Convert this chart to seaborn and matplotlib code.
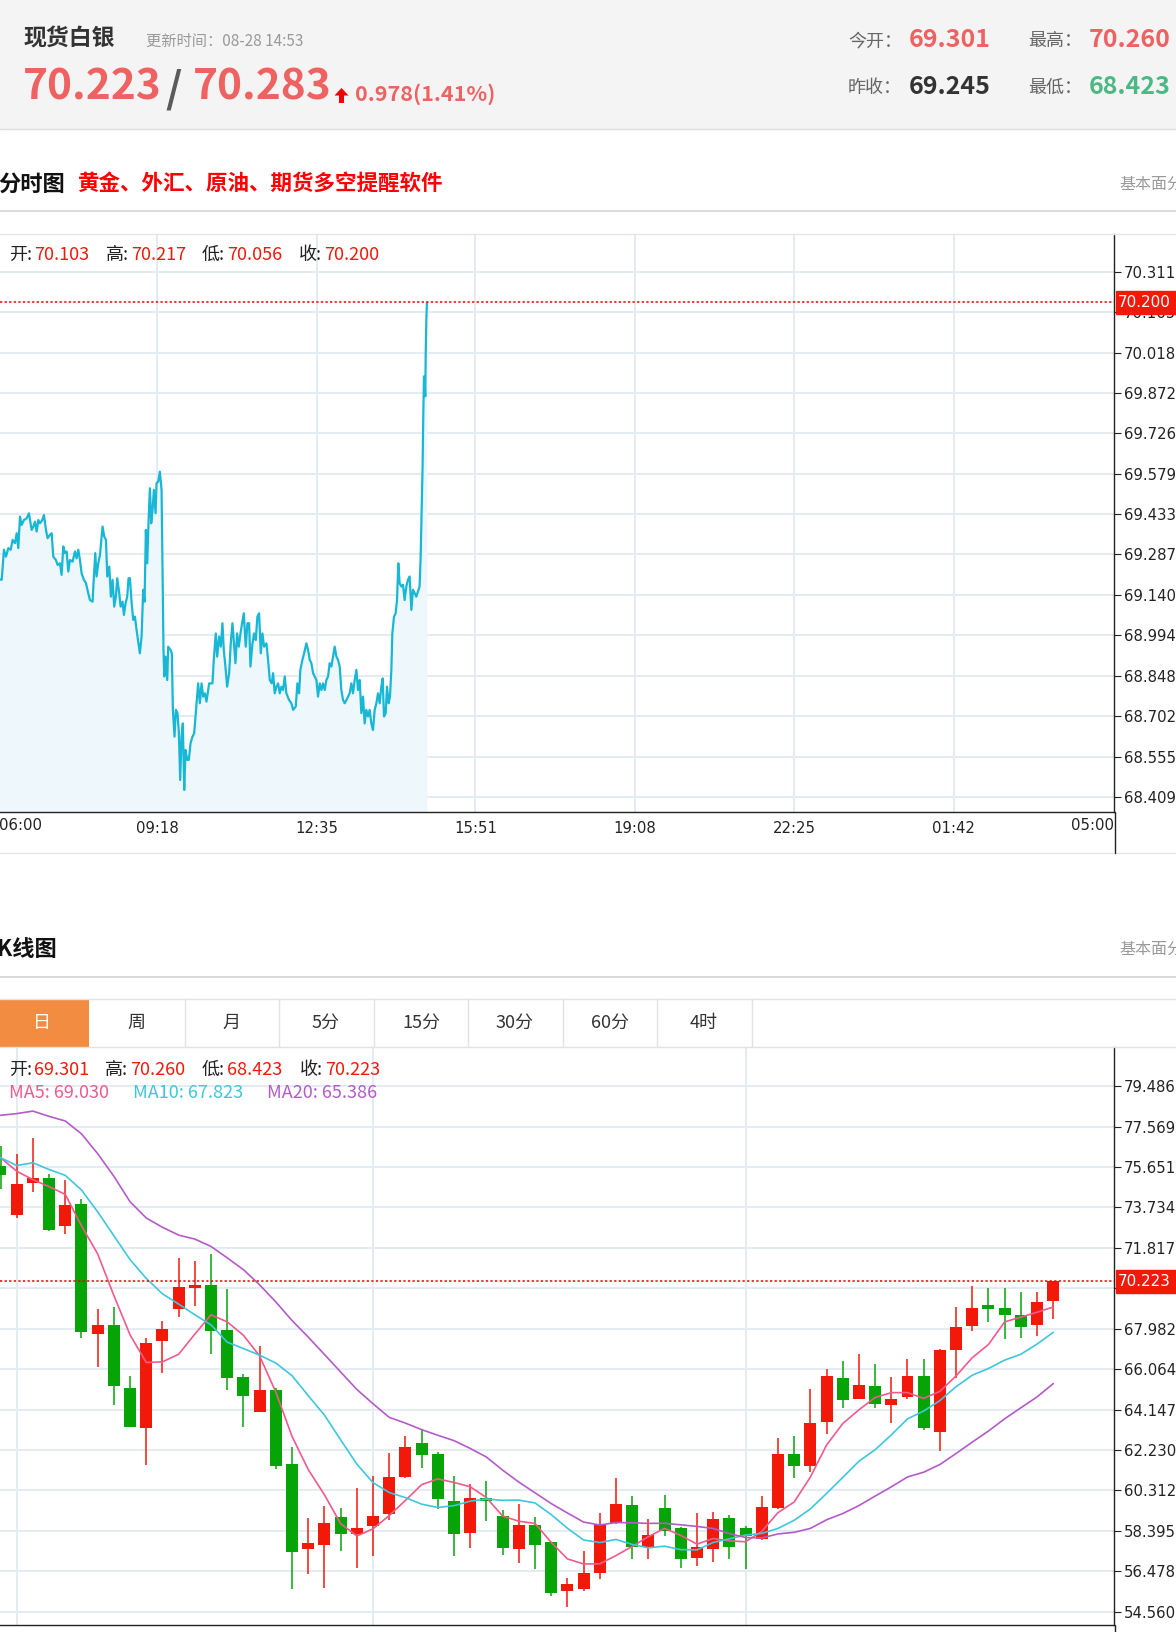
import numpy as np
import pandas as pd
import matplotlib
matplotlib.use("Agg")
import matplotlib.pyplot as plt
import seaborn as sns
from matplotlib.patches import Rectangle, Polygon
import matplotlib.transforms as mtransforms

# ==========================================
# Datos
# ==========================================

# cabecera
quote_bid = "70.223"
quote_ask = "70.283"
quote_change = "0.978(1.41%)"
update_time = "更新时间：08-28 14:53"
today_open = "69.301"
today_high = "70.260"
prev_close = "69.245"
today_low = "68.423"

# --- 分时图: minutos desde las 06:00 y precio ---
minute_marks = [
    0, 5.8, 8.6, 11.1, 14.0, 16.9, 19.3, 22.2, 24.3, 26.3, 28.4, 30.4, 33.3, 36.6, 39.5,
    42.8, 44.9, 46.9, 49.0, 51.0, 53.1, 56.0, 58.0, 60.5, 62.5, 65.4, 67.5, 69.5, 72.8,
    74.9, 77.8, 79.8, 81.9, 83.9, 86.0, 88.1, 90.1, 93.4, 96.3, 98.3, 100.4, 102.5, 104.5,
    107.4, 109.9, 112.7, 114.8, 118.1, 119.7, 121.4, 123.0, 125.1, 127.2, 129.2, 130.4,
    132.5, 134.6, 136.2, 138.7, 140.7, 142.8, 144.8, 146.9, 148.5, 151.0, 152.7, 155.1,
    156.8, 158.8, 160.9, 162.5, 164.2, 166.2, 168.3, 170.4, 172.4, 174.5, 176.5, 178.6,
    180.6, 182.3, 183.9, 185.6, 187.2, 188.9, 190.5, 192.2, 193.8, 195.9, 197.1, 199.2,
    201.2, 203.3, 204.5, 205.7, 206.6, 208.2, 210.3, 211.5, 214.4, 216.0, 217.3, 219.3,
    221.0, 223.0, 224.7, 226.3, 228.0, 229.6, 231.3, 232.9, 235.0, 237.0, 239.1, 241.5,
    243.6, 246.5, 248.5, 250.6, 252.7, 254.7, 256.8, 258.8, 262.1, 266.2, 267.8, 270.3,
    272.0, 274.4, 276.5, 278.5, 280.2, 282.2, 284.3, 286.8, 288.8, 290.9, 292.5, 294.6,
    296.6, 298.7, 300.8, 302.8, 304.9, 307.3, 309.4, 311.5, 313.1, 315.6, 317.6, 319.7,
    321.7, 323.8, 325.9, 327.9, 330.0, 332.9, 334.9, 337.0, 339.4, 341.1, 343.1, 345.2,
    347.3, 349.3, 351.4, 353.4, 355.5, 357.5, 360.8, 363.7, 365.8, 369.1, 371.1, 373.2,
    374.8, 377.3, 379.4, 382.2, 384.3, 386.4, 388.4, 390.5, 392.5, 394.6, 396.6, 398.7,
    400.8, 402.8, 404.9, 406.9, 409.0, 411.0, 413.1, 415.2, 417.2, 419.3, 421.3, 423.4,
    425.4, 427.5, 429.6, 431.6, 433.7, 435.7, 437.8, 439.8, 441.9, 444.0, 446.0, 448.1,
    450.1, 452.2, 454.2, 456.3, 458.4, 460.4, 462.5, 464.5, 466.6, 468.7, 470.7, 472.8,
    474.8, 476.5, 478.1, 480.2, 481.8, 483.9, 485.5, 487.2, 488.4, 490.5, 492.5, 494.2,
    495.8, 497.4, 499.5, 501.6, 503.6, 505.7, 507.7, 509.8, 511.9, 513.9, 516.0, 518.0,
    520.1, 522.1, 523.4, 524.6, 525.8, 526.7, 527.5, 528.3, 529.1, 529.6, 530.4, 531.2,
]
minute_prices = [
    69.200, 69.195, 69.304, 69.279, 69.310, 69.304, 69.340, 69.328, 69.364, 69.310, 69.424,
    69.394, 69.412, 69.418, 69.436, 69.376, 69.388, 69.406, 69.370, 69.412, 69.400, 69.412,
    69.430, 69.376, 69.346, 69.358, 69.364, 69.279, 69.267, 69.249, 69.255, 69.213, 69.316,
    69.292, 69.298, 69.225, 69.267, 69.261, 69.298, 69.273, 69.304, 69.267, 69.219, 69.195,
    69.183, 69.147, 69.122, 69.116, 69.207, 69.292, 69.207, 69.255, 69.285, 69.352, 69.388,
    69.352, 69.340, 69.207, 69.243, 69.134, 69.195, 69.098, 69.134, 69.201, 69.147, 69.098,
    69.116, 69.068, 69.110, 69.134, 69.201, 69.201, 69.116, 69.050, 69.062, 69.014, 68.971,
    68.929, 68.989, 69.159, 69.116, 69.376, 69.255, 69.406, 69.527, 69.400, 69.449, 69.521,
    69.436, 69.545, 69.551, 69.587, 69.521, 69.243, 68.941, 68.845, 68.917, 68.832, 68.953,
    68.941, 68.929, 68.724, 68.627, 68.724, 68.712, 68.639, 68.470, 68.627, 68.675, 68.434,
    68.579, 68.543, 68.543, 68.603, 68.627, 68.639, 68.748, 68.820, 68.748, 68.820, 68.772,
    68.784, 68.754, 68.820, 68.820, 68.905, 69.001, 68.917, 68.989, 68.953, 69.038, 68.941,
    68.881, 68.808, 68.857, 68.965, 69.038, 68.977, 68.893, 69.001, 68.953, 69.001, 69.038,
    69.074, 68.953, 69.038, 69.038, 68.881, 68.965, 69.001, 68.977, 69.062, 69.074, 68.929,
    69.001, 68.953, 68.965, 68.905, 68.832, 68.820, 68.857, 68.784, 68.808, 68.820, 68.784,
    68.808, 68.796, 68.845, 68.784, 68.760, 68.748, 68.724, 68.736, 68.820, 68.784, 68.869,
    68.905, 68.929, 68.965, 68.941, 68.905, 68.893, 68.857, 68.845, 68.832, 68.772, 68.820,
    68.796, 68.820, 68.796, 68.832, 68.845, 68.893, 68.881, 68.917, 68.953, 68.917, 68.905,
    68.881, 68.796, 68.760, 68.748, 68.760, 68.772, 68.784, 68.820, 68.784, 68.832, 68.869,
    68.796, 68.832, 68.712, 68.772, 68.675, 68.724, 68.700, 68.724, 68.675, 68.651, 68.724,
    68.748, 68.784, 68.748, 68.808, 68.838, 68.700, 68.712, 68.808, 68.748, 68.772, 68.869,
    69.001, 69.062, 69.074, 69.122, 69.255, 69.183, 69.171, 69.177, 69.122, 69.171, 69.195,
    69.207, 69.086, 69.159, 69.147, 69.134, 69.153, 69.171, 69.279, 69.436, 69.606, 69.799,
    69.932, 69.920, 69.860, 70.004, 70.137, 70.200,
]
intraday_last = 70.200
intraday_ohlc = [("开:", "70.103"), ("高:", "70.217"), ("低:", "70.056"), ("收:", "70.200")]
time_label_minutes = [198, 395, 591, 788, 985, 1182]
time_labels = ["09:18", "12:35", "15:51", "19:08", "22:25", "01:42"]
intraday_ticks = [68.409, 68.555, 68.702, 68.848, 68.994, 69.140, 69.287,
                  69.433, 69.579, 69.726, 69.872, 70.018, 70.165, 70.311]

# --- K线图 (diario) ---
k_open = [75.688, 73.387, 74.868, 75.125, 72.840, 73.886, 67.723, 68.174, 65.149, 63.282,
          67.401, 68.930, 69.912, 70.040, 67.917, 65.712, 64.022, 65.052, 61.560, 57.538,
          57.747, 59.066, 58.230, 58.632, 59.195, 60.964, 62.545, 62.039, 59.826, 58.309,
          59.953, 59.099, 57.550, 58.688, 57.850, 55.558, 55.622, 56.380, 58.751, 59.605,
          57.645, 59.478, 58.514, 57.107, 57.534, 58.989, 58.514, 58.008, 59.478, 62.043,
          61.480, 63.572, 65.662, 64.666, 65.261, 64.376, 64.746, 65.744, 63.089, 66.967,
          68.093, 69.091, 68.962, 68.608, 68.158, 69.301]
k_high = [76.654, 76.284, 77.008, 75.318, 75.045, 74.111, 68.898, 69.011, 65.744, 67.562,
          68.367, 71.344, 71.183, 71.537, 69.847, 65.825, 67.144, 65.181, 62.365, 59.002,
          59.565, 59.468, 60.434, 60.997, 62.091, 62.893, 63.241, 62.134, 61.012, 60.601,
          60.759, 59.384, 59.668, 59.068, 57.850, 56.175, 57.455, 59.226, 60.917, 60.063,
          58.973, 60.079, 58.562, 59.226, 59.273, 59.163, 58.625, 60.048, 62.782, 62.896,
          65.100, 66.066, 66.468, 66.790, 66.307, 65.696, 66.549, 66.549, 66.999, 69.011,
          70.008, 69.896, 69.928, 69.702, 69.702, 70.260]
k_low = [74.610, 73.243, 74.481, 72.615, 72.454, 67.562, 66.146, 64.376, 63.298, 61.496,
         65.873, 68.560, 69.059, 66.790, 65.052, 63.298, 64.022, 61.352, 55.623, 56.347,
         55.703, 57.425, 56.620, 57.184, 58.921, 60.917, 61.360, 59.447, 57.218, 57.597,
         58.878, 57.265, 56.886, 56.601, 55.321, 54.768, 55.527, 56.096, 58.720, 57.060,
         57.076, 58.166, 56.649, 56.744, 56.933, 57.044, 56.570, 57.961, 59.447, 60.885,
         61.206, 63.009, 64.215, 64.666, 64.215, 63.507, 64.666, 63.186, 62.172, 65.631,
         67.884, 68.319, 67.482, 67.530, 67.643, 68.423]
k_close = [75.254, 74.835, 75.125, 72.663, 73.870, 67.804, 68.174, 65.261, 63.330, 67.321,
           67.965, 69.976, 70.040, 67.884, 65.664, 64.779, 65.068, 61.480, 57.377, 57.827,
           58.777, 58.230, 58.551, 59.082, 60.965, 62.355, 61.976, 59.921, 58.230, 59.953,
           59.795, 57.597, 58.688, 57.724, 55.448, 55.875, 56.396, 58.720, 59.684, 57.613,
           58.182, 58.372, 57.044, 57.613, 58.957, 57.613, 58.166, 59.510, 62.039, 61.480,
           63.523, 65.744, 64.618, 65.310, 64.408, 64.666, 65.760, 63.250, 66.967, 68.077,
           68.981, 68.898, 68.608, 68.077, 69.252, 70.223]
# medias de los dias anteriores al primer dia visible
ma5_head = [76.09, 75.45, 75.05, 74.72]
ma10_head = [76.09, 75.72, 75.85, 75.53, 75.25, 74.56, 73.52, 72.39, 71.26]
ma20_head = [78.10, 78.18, 78.30, 78.05, 77.83, 77.22, 76.28, 75.21, 74.00, 73.23,
             72.79, 72.42, 72.23, 71.88, 71.34, 70.78, 70.06, 69.25, 68.37]
k_ohlc = [("开:", "69.301"), ("高:", "70.260"), ("低:", "68.423"), ("收:", "70.223")]
ma_labels = ["MA5: 69.030", "MA10: 67.823", "MA20: 65.386"]
k_grid_days = [1, 23, 46]
k_ticks = [54.560, 56.478, 58.395, 60.312, 62.230, 64.147, 66.064,
           67.982, 69.899, 71.817, 73.734, 75.651, 77.569, 79.486]
k_last = 70.223
tab_names = ["日", "周", "月", "5分", "15分", "30分", "60分", "4时"]

# ==========================================
# Estilo
# ==========================================
sns.set_theme(style="white")
plt.rcParams['font.family'] = ['Noto Sans CJK SC', 'DejaVu Sans']

RED = "#f2190b"
GREEN = "#06a406"
UP_TXT = "#ef6262"
GRID = "#e3ecf2"
MA_COLORS = ["#ef5b8c", "#3ec7dc", "#b35cc9"]

W, H = 1176, 1632
fig = plt.figure(figsize=(W / 100, H / 100), dpi=100)
fig.patch.set_facecolor("white")


def rect(left, top, right, bottom):
    return [left / W, 1 - bottom / H, (right - left) / W, (bottom - top) / H]


def style_axis(ax, ticks, lo, hi):
    ax.set_ylim(lo, hi)
    ax.yaxis.tick_right()
    ax.set_yticks(ticks)
    ax.set_yticklabels([f"{v:.3f}" for v in ticks], fontfamily="DejaVu Sans",
                       fontsize=10.7, color="#222")
    ax.tick_params(axis="y", direction="out", length=5, width=0.8, color="#222", pad=2)
    ax.grid(axis="both", color=GRID, lw=1.4)
    ax.set_axisbelow(True)
    for s in ["top", "left"]:
        ax.spines[s].set_visible(False)
    for s in ["right", "bottom"]:
        ax.spines[s].set_color("#222")
        ax.spines[s].set_linewidth(1.0)
    ax.set_xlabel("")
    ax.set_ylabel("")


def price_box(ax, price, height, text):
    tr = mtransforms.blended_transform_factory(ax.transAxes, ax.transData)
    ax.axhline(price, color="#f00000", lw=1.1, ls=(0, (1.5, 1.5)), zorder=4)
    ax.add_patch(Rectangle((1.0015, price - height / 2), 62 / 1114, height,
                           transform=tr, color="#f2190b", clip_on=False, zorder=20))
    ax.text(1.0035, price, text, transform=tr, color="white", fontsize=10.9,
            fontfamily="DejaVu Sans", va="center", ha="left", clip_on=False, zorder=21)


# ==========================================
# 分时图
# ==========================================
ax1 = fig.add_axes(rect(0, 234, 1114, 812))
y1_lo, y1_hi = 68.354, 70.448
ax1.fill_between(minute_marks, minute_prices, y1_lo, color="#eef8fc", lw=0, zorder=1)
sns.lineplot(x=minute_marks, y=minute_prices, ax=ax1, color="#18b7d6", lw=1.6,
             estimator=None, sort=False, zorder=3)
ax1.set_xlim(3.7, 1380)
style_axis(ax1, intraday_ticks, y1_lo, y1_hi)
ax1.set_xticks(time_label_minutes)
ax1.set_xticklabels(time_labels, fontfamily="DejaVu Sans", fontsize=10.7, color="#222")
ax1.tick_params(axis="x", direction="out", length=5, width=0.8, color="#222", pad=1.5)
price_box(ax1, intraday_last, 0.083, f"{intraday_last:.3f}")

# ==========================================
# K线图
# ==========================================
ax2 = fig.add_axes(rect(0, 1047, 1114, 1625))
days = np.arange(len(k_close))
o = np.array(k_open)
c = np.array(k_close)
colors = [RED if cc >= oo else GREEN for oo, cc in zip(o, c)]
body_lo = np.minimum(o, c)
body_h = np.maximum(np.abs(c - o), 0.12)
ax2.vlines(days, k_low, k_high, colors=colors, lw=1.1, zorder=2)
ax2.bar(days, body_h, bottom=body_lo, width=0.74, color=colors, lw=0, zorder=2)

closes = pd.Series(k_close)
ma_df = pd.DataFrame({"day": days})
for n, head, name in [(5, ma5_head, "MA5"), (10, ma10_head, "MA10"), (20, ma20_head, "MA20")]:
    ma = closes.rolling(n).mean()
    ma.iloc[:len(head)] = head
    ma_df[name] = ma
ma_long = ma_df.melt(id_vars="day", var_name="ma", value_name="price")
sns.lineplot(data=ma_long, x="day", y="price", hue="ma", palette=MA_COLORS, ax=ax2,
             lw=1.2, legend=False, zorder=3)

ax2.set_xlim(-0.031, 68.75)
style_axis(ax2, k_ticks, 53.932, 81.339)
ax2.set_xticks(k_grid_days)
ax2.set_xticklabels([])
ax2.tick_params(axis="x", direction="out", length=8, width=0.8, color="#222")
price_box(ax2, k_last, 1.09, f"{k_last:.3f}")

# ==========================================
# Capa de pagina (cabecera, titulos, pestañas)
# ==========================================
bg = fig.add_axes([0, 0, 1, 1], zorder=10)
bg.set_xlim(0, W)
bg.set_ylim(H, 0)
bg.axis("off")
bg.patch.set_alpha(0)

bg.add_patch(Rectangle((0, 0), W, 129, color="#f4f4f4", lw=0))
bg.plot([0, W], [129, 129], color="#dcdcdc", lw=1)
bg.text(23, 39, "现货白银", fontsize=16.5, fontweight="bold", color="#333", va="center")
bg.text(146, 41, update_time, fontsize=11, color="#999", va="center")
bg.text(23, 87, quote_bid, fontsize=30.5, fontweight="bold", color=UP_TXT, va="center")
bg.text(174, 89, "/", fontsize=30.5, fontweight="bold", color="#5a5a5a", va="center",
        ha="center")
bg.text(193, 87, quote_ask, fontsize=30.5, fontweight="bold", color=UP_TXT, va="center")
bg.add_patch(Polygon([(341.5, 88), (348.5, 95.5), (344, 95.5), (344, 103), (339, 103),
                      (339, 95.5), (334.5, 95.5)], closed=True, color="#f20000", lw=0))
bg.text(355, 94, quote_change, fontsize=15.5, fontweight="bold", color=UP_TXT, va="center")

for lbl, val, x, y, col in [("今开：", today_open, 848, 40, UP_TXT),
                            ("最高：", today_high, 1028, 40, UP_TXT),
                            ("昨收：", prev_close, 848, 87, "#333"),
                            ("最低：", today_low, 1028, 87, "#4db884")]:
    bg.text(x, y + 1, lbl, fontsize=13, color="#666", va="center")
    bg.text(x + 61, y, val, fontsize=18, fontweight="bold", color=col, va="center")

# titulo 分时图
bg.text(-2, 184, "分时图", fontsize=16, fontweight="bold", color="#111", va="center")
bg.text(77, 183, "黄金、外汇、原油、期货多空提醒软件", fontsize=15.5, fontweight="bold",
        color="#ff0000", va="center")
bg.text(1119, 184, "基本面分", fontsize=11.5, color="#999", va="center")
bg.plot([0, W], [211, 211], color="#d3d3d3", lw=1.2)
bg.plot([0, W], [234, 234], color="#e6e6e6", lw=1)
bg.plot([0, W], [853, 853], color="#e6e6e6", lw=1)
bg.plot([1114.5, 1114.5], [812, 853], color="#222", lw=1)

for (lbl, val), x in zip(intraday_ohlc, [9, 106, 202, 299]):
    bg.text(x, 255, lbl, fontsize=13, color="#222", va="center")
    bg.text(x + 25, 255, val, fontsize=13, color="#f01a0a", va="center")
bg.text(-1, 825, "06:00", fontsize=10.7, fontfamily="DejaVu Sans", color="#222",
        va="center", ha="left")
bg.text(1114, 825, "05:00", fontsize=10.7, fontfamily="DejaVu Sans", color="#222",
        va="center", ha="right")

# titulo K线图
bg.text(-3, 950, "K线图", fontsize=16, fontweight="bold", color="#111", va="center")
bg.text(1119, 949, "基本面分", fontsize=11.5, color="#999", va="center")
bg.plot([0, W], [977, 977], color="#d3d3d3", lw=1.2)

# pestañas
bg.plot([0, W], [999, 999], color="#e2e2e2", lw=1)
bg.plot([0, W], [1047, 1047], color="#e2e2e2", lw=1)
bg.add_patch(Rectangle((-2, 999), 91, 48, color="#f28c41", lw=0))
tab_edges = [89, 184.5, 279, 373.5, 468, 562.5, 657, 751.5]
for x in tab_edges[1:]:
    bg.plot([x, x], [999, 1047], color="#e2e2e2", lw=1)
tab_centers = [42, 136.5, 231.5, 326, 421, 515, 610, 704]
for i, (name, x) in enumerate(zip(tab_names, tab_centers)):
    bg.text(x, 1023, name, fontsize=13, color="white" if i == 0 else "#333",
            ha="center", va="center")

for (lbl, val), x in zip(k_ohlc, [9, 105, 202, 300]):
    bg.text(x, 1070, lbl, fontsize=13, color="#222", va="center")
    bg.text(x + 25, 1070, val, fontsize=13, color="#f01a0a", va="center")
for lbl, x, col in zip(ma_labels, [9, 133, 267], MA_COLORS):
    bg.text(x, 1093, lbl, fontsize=13, color=col, va="center")
bg.plot([1114.5, 1114.5], [1625, H], color="#222", lw=1)

fig.savefig("out.png", dpi=100)
plt.close(fig)
